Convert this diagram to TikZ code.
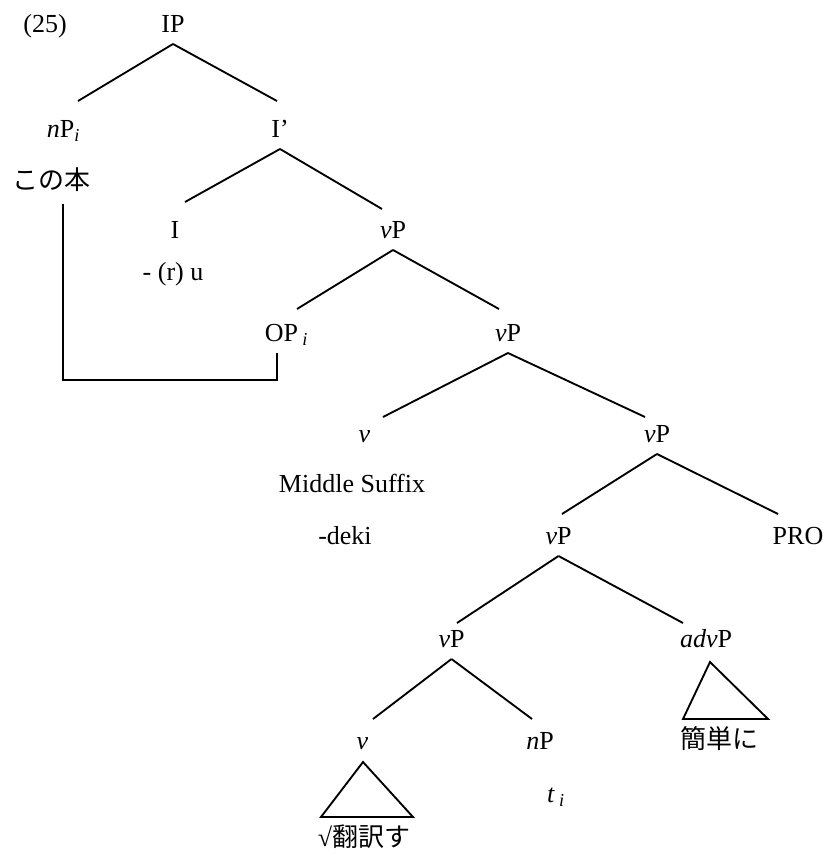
\documentclass[tikz,border=0pt]{standalone}
\usepackage{fontspec}
\setmainfont{Liberation Serif}
\newfontfamily\cjk{Noto Sans CJK JP}
\usetikzlibrary{calc}
\newcommand{\idx}[1]{\textsubscript{\textit{#1}}}
\tikzset{
  cat/.style={inner sep=0pt, outer ysep=8.5pt, text height=13pt, text depth=0pt, font=\fontsize{19.5}{23}\selectfont},
  branch/.style={line width=1.4pt},
  roof/.style={line width=1.4pt, line join=miter},
  chain/.style={line width=1.8pt},
}

\begin{document}
\begin{tikzpicture}[x={(0.75pt,0)}, y={(0,-0.75pt)}]
  \useasboundingbox (0,0) rectangle (830,859);
  % labels of the tree
  \node[cat] (ex) at (45,24) {(25)};
  \node[cat] (ip) at (173,24) {IP};
  \node[cat] (np) at (63.5,129) {\textit{n}P\idx{i}}; \node[cat] (ibar) at (280,129) {I'};
  \node[cat] (kono) at (51.5,181) {\cjk この本};
  \node[cat] (infl) at (175,230) {I}; \node[cat] (vpa) at (393,230) {\textit{v}P};
  \node[cat] (ru) at (173,272) {- (r) u};
  \node[cat] (op) at (286.5,333) {OP\,\idx{i}}; \node[cat] (vpb) at (508,333) {\textit{v}P};
  \node[cat] (va) at (364.5,434) {\textit{v}}; \node[cat] (vpc) at (657,434) {\textit{v}P};
  \node[cat] (mid) at (352,484) {Middle Suffix};
  \node[cat] (deki) at (345,536) {-deki}; \node[cat] (vpd) at (558.5,536) {\textit{v}P}; \node[cat] (pro) at (798,536) {PRO};
  \node[cat] (vpe) at (451.5,639) {\textit{v}P}; \node[cat] (advp) at (706,639) {\textit{adv}P};
  \node[cat] (vb) at (362.5,741) {\textit{v}}; \node[cat] (npb) at (540,741) {\textit{n}P}; \node[cat] (kantan) at (719,740) {\cjk 簡単に};
  \node[cat] (trace) at (556,794) {\textit{t}\,\idx{i}};
  \node[cat] (root) at (364,838) {√{\cjk 翻訳す}};
  % branches
  \draw[branch] (ip.south) -- ($(np.north)+(14.5,-8)$); \draw[branch] (ip.south) -- ($(ibar.north)+(-3,-8)$);
  \draw[branch] (ibar.south) -- ($(infl.north)+(10,-8)$); \draw[branch] (ibar.south) -- ($(vpa.north)+(-11,-1)$);
  \draw[branch] (vpa.south) -- ($(op.north)+(10.5,-4)$); \draw[branch] (vpa.south) -- ($(vpb.north)+(-9,-4)$);
  \draw[branch] (vpb.south) -- ($(va.north)+(18.5,3)$); \draw[branch] (vpb.south) -- ($(vpc.north)+(-12,3)$);
  \draw[branch] (vpc.south) -- ($(vpd.north)+(3.5,-2)$); \draw[branch] (vpc.south) -- ($(pro.north)+(-20,-2)$);
  \draw[branch] (vpd.south) -- ($(vpe.north)+(5.5,4)$); \draw[branch] (vpd.south) -- ($(advp.north)+(-23,4)$);
  \draw[branch] (vpe.south) -- ($(vb.north)+(10.5,-2)$); \draw[branch] (vpe.south) -- ($(npb.north)+(-8,-2)$);
  % roofs
  \draw[roof] ($(advp.south)+(4,3)$) -- ++(-27,57) -- ++(85,0) -- cycle;
  \draw[roof] ($(vb.south)+(0.5,1)$) -- ++(-42,55) -- ++(92,0) -- cycle;
  % movement link
  \coordinate (bend) at (277,380);
  \draw[chain] ($(kono.south)+(11.5,3)$) |- (bend) -- ($(op.south)+(-9.5,0)$);
\end{tikzpicture}
\end{document}
